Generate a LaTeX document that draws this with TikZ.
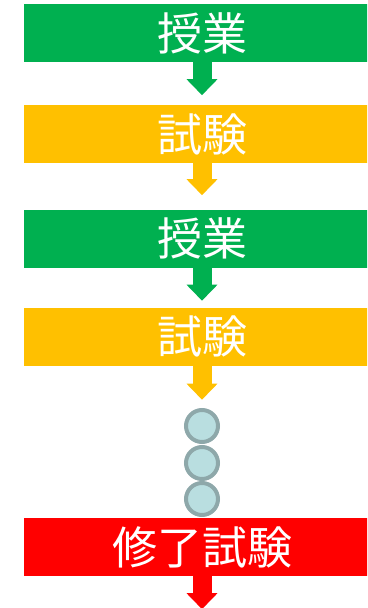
\documentclass[tikz,border=0pt]{standalone}
\usepackage{fontspec}
\newfontfamily\jpfont{Noto Sans CJK JP}
\usetikzlibrary{positioning}
\usetikzlibrary{arrows.meta}
\definecolor{kgreen}{RGB}{0,176,80}
\definecolor{kyellow}{RGB}{255,192,0}
\definecolor{kred}{RGB}{255,0,0}
\definecolor{dotfill}{RGB}{185,222,224}
\definecolor{dotline}{RGB}{142,168,170}
\tikzset{
    stagebox/.style = {rectangle, minimum width=356pt, minimum height=58pt, inner sep=0pt, text=white, font=\jpfont\fontsize{45}{45}\selectfont},
    classbox/.style = {stagebox, fill=kgreen},
    exambox/.style = {stagebox, fill=kyellow},
    finalbox/.style = {stagebox, fill=kred},
    dotnode/.style = {circle, inner sep=0pt, minimum size=32pt, line width=4pt, draw=dotline, fill=dotfill},
    flow/.style = {line width=19pt, -{Triangle[width=30pt,length=16pt]}},
}

\begin{document}
\begin{tikzpicture}[x=1pt,y=1pt]
\useasboundingbox (0,0) rectangle (367,-608);
\clip (0,0) rectangle (367,-608);

\node[classbox] at (202,-33.0) (c1) {授業};
\node[exambox] at (202,-134.0) (e1) {試験};
\node[classbox] at (202,-238.5) (c2) {授業};
\node[exambox] at (202,-336.5) (e2) {試験};
\node[dotnode] at (202,-426) (d1) {};
\node[dotnode] at (202,-463) (d2) {};
\node[dotnode] at (202,-499) (d3) {};
\node[finalbox] at (202,-547.0) (f) {修了試験};
%
\coordinate[below=33pt of c1] (t1);
\coordinate[below=32pt of e1] (t2);
\coordinate[below=33pt of c2] (t3);
\coordinate[below=34pt of e2] (t4);
\coordinate[below=33pt of f] (t5);
%
\draw[flow, kgreen] (c1) -- (t1);
\draw[flow, kyellow] (e1) -- (t2);
\draw[flow, kgreen] (c2) -- (t3);
\draw[flow, kyellow] (e2) -- (t4);
\draw[flow, kred] (f) -- (t5);

\end{tikzpicture}
\end{document}
